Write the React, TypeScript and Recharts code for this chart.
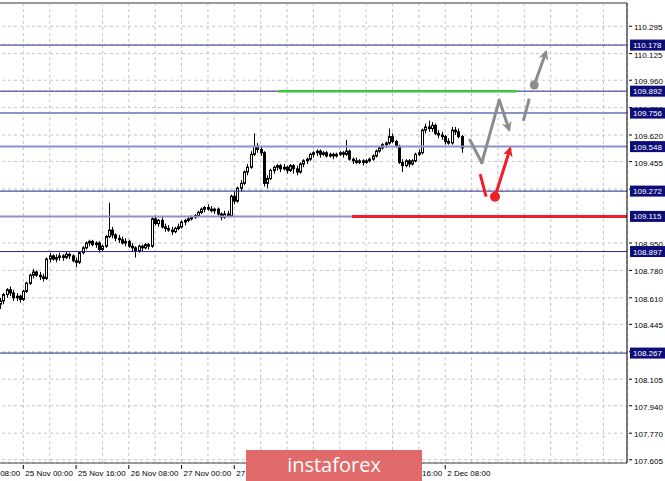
import React from 'react';
import {
  ComposedChart,
  Bar,
  XAxis,
  YAxis,
  CartesianGrid,
  ReferenceLine,
  ReferenceDot,
} from 'recharts';

// H1 bars, index 0 = 22 Nov 08:00
const candleStart = 9;
// [open, high, low, close]
const ohlc: [number, number, number, number][] = [
  [108.57, 108.61, 108.54, 108.59], [108.59, 108.64, 108.57, 108.63], [108.63, 108.67, 108.61, 108.66],
  [108.66, 108.68, 108.62, 108.64], [108.64, 108.66, 108.59, 108.61], [108.61, 108.64, 108.59, 108.62],
  [108.62, 108.63, 108.58, 108.6], [108.6, 108.66, 108.59, 108.65], [108.65, 108.71, 108.64, 108.7],
  [108.7, 108.76, 108.69, 108.75], [108.75, 108.79, 108.73, 108.77], [108.77, 108.78, 108.74, 108.75],
  [108.75, 108.77, 108.72, 108.74], [108.74, 108.76, 108.71, 108.73], [108.73, 108.86, 108.72, 108.85],
  [108.85, 108.89, 108.83, 108.87], [108.87, 108.88, 108.84, 108.85], [108.85, 108.88, 108.83, 108.86],
  [108.86, 108.89, 108.84, 108.87], [108.87, 108.88, 108.84, 108.86], [108.86, 108.9, 108.85, 108.88],
  [108.88, 108.89, 108.85, 108.87], [108.87, 108.88, 108.83, 108.84], [108.84, 108.86, 108.8, 108.83],
  [108.83, 108.9, 108.82, 108.89], [108.89, 108.93, 108.88, 108.92], [108.92, 108.96, 108.91, 108.95],
  [108.95, 108.97, 108.93, 108.96], [108.96, 108.97, 108.93, 108.94], [108.94, 108.96, 108.92, 108.95],
  [108.95, 108.96, 108.89, 108.91], [108.91, 108.94, 108.9, 108.93], [108.93, 109.0, 108.92, 108.99],
  [108.99, 109.2, 108.98, 109.03], [109.03, 109.05, 108.98, 109.0], [109.0, 109.01, 108.96, 108.98],
  [108.98, 109.0, 108.95, 108.97], [108.97, 108.99, 108.94, 108.95], [108.95, 108.98, 108.93, 108.96],
  [108.96, 108.97, 108.92, 108.93], [108.93, 108.95, 108.9, 108.92], [108.92, 108.93, 108.86, 108.9],
  [108.9, 108.94, 108.89, 108.93], [108.93, 108.94, 108.9, 108.92], [108.92, 108.95, 108.91, 108.94],
  [108.94, 108.95, 108.91, 108.93], [108.93, 109.11, 108.92, 109.1], [109.1, 109.12, 109.06, 109.07],
  [109.07, 109.1, 109.05, 109.09], [109.09, 109.11, 109.04, 109.05], [109.05, 109.07, 109.02, 109.04],
  [109.04, 109.06, 109.02, 109.03], [109.03, 109.05, 109.0, 109.02], [109.02, 109.05, 109.01, 109.04],
  [109.04, 109.07, 109.03, 109.05], [109.05, 109.09, 109.04, 109.08], [109.08, 109.1, 109.06, 109.09],
  [109.09, 109.11, 109.08, 109.1], [109.1, 109.12, 109.09, 109.11], [109.11, 109.13, 109.1, 109.12],
  [109.12, 109.15, 109.11, 109.14], [109.14, 109.17, 109.13, 109.16], [109.16, 109.18, 109.14, 109.17],
  [109.17, 109.19, 109.15, 109.16], [109.16, 109.18, 109.14, 109.15], [109.15, 109.17, 109.13, 109.16],
  [109.16, 109.17, 109.12, 109.13], [109.13, 109.14, 109.09, 109.11], [109.11, 109.15, 109.1, 109.13],
  [109.13, 109.15, 109.11, 109.12], [109.12, 109.25, 109.11, 109.24], [109.24, 109.27, 109.19, 109.21],
  [109.21, 109.3, 109.2, 109.29], [109.29, 109.34, 109.27, 109.32], [109.32, 109.4, 109.31, 109.39],
  [109.39, 109.44, 109.37, 109.42], [109.42, 109.52, 109.41, 109.5], [109.5, 109.63, 109.49, 109.55],
  [109.55, 109.57, 109.51, 109.53], [109.53, 109.55, 109.49, 109.51], [109.51, 109.52, 109.3, 109.32],
  [109.32, 109.37, 109.29, 109.35], [109.35, 109.41, 109.34, 109.4], [109.4, 109.43, 109.38, 109.42],
  [109.42, 109.44, 109.4, 109.43], [109.43, 109.44, 109.39, 109.41], [109.41, 109.44, 109.4, 109.42],
  [109.42, 109.43, 109.38, 109.4], [109.4, 109.44, 109.39, 109.43], [109.43, 109.44, 109.38, 109.41],
  [109.41, 109.43, 109.37, 109.39], [109.39, 109.45, 109.38, 109.44], [109.44, 109.47, 109.42, 109.46],
  [109.46, 109.48, 109.44, 109.47], [109.47, 109.51, 109.46, 109.5], [109.5, 109.52, 109.48, 109.51],
  [109.51, 109.53, 109.49, 109.52], [109.52, 109.53, 109.48, 109.5], [109.5, 109.52, 109.49, 109.51],
  [109.51, 109.52, 109.48, 109.49], [109.49, 109.51, 109.48, 109.5], [109.5, 109.51, 109.47, 109.49],
  [109.49, 109.51, 109.48, 109.5], [109.5, 109.52, 109.49, 109.51], [109.51, 109.52, 109.48, 109.5],
  [109.5, 109.59, 109.49, 109.52], [109.52, 109.53, 109.46, 109.47], [109.47, 109.48, 109.44, 109.46],
  [109.46, 109.48, 109.44, 109.45], [109.45, 109.47, 109.44, 109.46], [109.46, 109.47, 109.43, 109.45],
  [109.45, 109.47, 109.44, 109.46], [109.46, 109.48, 109.45, 109.47], [109.47, 109.5, 109.46, 109.49],
  [109.49, 109.53, 109.48, 109.52], [109.52, 109.55, 109.51, 109.54], [109.54, 109.57, 109.53, 109.56],
  [109.56, 109.58, 109.54, 109.57], [109.57, 109.66, 109.56, 109.61], [109.61, 109.63, 109.57, 109.58],
  [109.58, 109.59, 109.54, 109.55], [109.55, 109.56, 109.44, 109.45], [109.45, 109.47, 109.39, 109.43],
  [109.43, 109.47, 109.42, 109.46], [109.46, 109.47, 109.42, 109.44], [109.44, 109.47, 109.43, 109.46],
  [109.46, 109.51, 109.45, 109.5], [109.5, 109.53, 109.49, 109.51], [109.51, 109.66, 109.5, 109.65],
  [109.65, 109.69, 109.63, 109.67], [109.67, 109.71, 109.64, 109.66], [109.66, 109.7, 109.64, 109.68],
  [109.68, 109.69, 109.62, 109.63], [109.63, 109.65, 109.6, 109.62], [109.62, 109.64, 109.59, 109.61],
  [109.61, 109.62, 109.56, 109.58], [109.58, 109.6, 109.56, 109.57], [109.57, 109.67, 109.56, 109.65],
  [109.65, 109.67, 109.62, 109.64], [109.64, 109.66, 109.6, 109.61], [109.61, 109.62, 109.51, 109.54],
];

const priceTicks = [
  110.295, 110.125, 109.96, 109.79, 109.62, 109.455, 109.285, 109.115, 108.95,
  108.78, 108.61, 108.445, 108.275, 108.105, 107.94, 107.77, 107.605,
];
const timeTicks = [0, 8, 16, 24, 32, 40, 48, 56, 64, 72, 80, 88, 96, 104, 112, 120, 128, 136, 144, 152, 160, 168, 176, 184, 192];
const timeLabels: Record<number, string> = {
  0: '22 Nov 08:00',
  16: '25 Nov 00:00',
  32: '25 Nov 16:00',
  48: '26 Nov 08:00',
  64: '27 Nov 00:00',
  80: '27 Nov 16:00',
  96: '28 Nov 08:00',
  112: '29 Nov 00:00',
  128: '29 Nov 16:00',
  144: '2 Dec 08:00',
};

const levels = [110.178, 109.892, 109.756, 109.548, 109.272, 109.115, 108.897, 108.267];
const levelTone = ['dark', 'dark', 'light', 'light', 'dark', 'light', 'dark', 'dark'];

// drawn forecast: [bar index, price]
const greenZone: [number, number][] = [[93.3, 109.892], [165.8, 109.892]];
const redZone: [number, number][] = [[115.7, 109.115], [199.15, 109.115]];
const grayPath: [number, number][] = [[151.5, 109.589], [155.1, 109.448], [160.4, 109.837], [163.4, 109.651]];
const grayDash: [number, number][] = [[167.7, 109.708], [169.5, 109.845]];
const grayArrow: [number, number][] = [[171.0, 109.93], [174.6, 110.136]];
const redDash: [number, number][] = [[154.6, 109.378], [156.4, 109.237]];
const redArrow: [number, number][] = [[159.1, 109.237], [163.7, 109.537]];

const xDomain = [-3.216, 199.15];
const yDomain = [107.585, 110.439];

const FONT = '"Liberation Sans", Arial, sans-serif';
const GRAY = '#8c8c8c';
const RED = '#ee1f26';

const data = ohlc.map(([o, h, l, c], k) => ({ i: candleStart + k, o, h, l, c, range: [l, h] }));

// plain labels first, level tags last so the tags sit on top
const axisTicks = [...priceTicks.filter((t) => !levels.includes(t)), ...levels];

const Candle = (props: any) => {
  const { x, y, width, height, payload } = props;
  const { o, h, l, c } = payload;
  const top = Math.min(y, y + height);
  const span = Math.abs(height);
  const k = span / (h - l);
  const cx = Math.round(x + width / 2) + 0.5;
  const yo = top + (h - o) * k;
  const yc = top + (h - c) * k;
  const bodyTop = Math.min(yo, yc);
  const bodyH = Math.max(1, Math.abs(yc - yo));
  return (
    <g>
      <line x1={cx} x2={cx} y1={top} y2={top + span} stroke="#000" strokeWidth={1} />
      {c >= o ? (
        <rect x={cx - 1} y={bodyTop} width={2} height={bodyH} fill="#fff" stroke="#000" strokeWidth={1} />
      ) : (
        <rect x={cx - 1.5} y={bodyTop - 0.5} width={3} height={bodyH + 1} fill="#000" />
      )}
    </g>
  );
};

const TimeTick = ({ x, y, payload }: any) => {
  const label = timeLabels[payload.value];
  if (!label) return null;
  return (
    <g>
      <line x1={x} x2={x} y1={y} y2={y + 4} stroke="#000" />
      <text x={x + 2} y={y + 11} fontSize={8} fill="#000" fontFamily={FONT}>
        {label}
      </text>
    </g>
  );
};

const PriceTick = ({ x, y, payload }: any) => {
  const v: number = payload.value;
  if (levels.includes(v)) {
    return (
      <g>
        <rect x={x + 1} y={y - 5.5} width={36} height={11} fill="#0d0d78" />
        <text x={x + 4} y={y + 3} fontSize={8} fill="#fff" fontFamily={FONT}>
          {v.toFixed(3)}
        </text>
      </g>
    );
  }
  return (
    <g>
      <line x1={x} x2={x + 3} y1={y} y2={y} stroke="#000" />
      <text x={x + 5} y={y + 4} fontSize={8} fill="#000" fontFamily={FONT}>
        {v.toFixed(3)}
      </text>
    </g>
  );
};

const seg = (p: [number, number][], a: number) => [
  { x: p[a][0], y: p[a][1] },
  { x: p[a + 1][0], y: p[a + 1][1] },
];

export default function App() {
  return (
    <div style={{ position: 'absolute', left: 0, top: 0, width: 665, height: 481, overflow: 'hidden', background: '#fff' }}>
      <div style={{ position: 'absolute', left: -40, top: 0 }}>
        <ComposedChart width={705} height={481} data={data} margin={{ top: 3, right: 0, bottom: 0, left: 0 }}>
          <defs>
            <marker id="ahGray" viewBox="0 0 10 10" refX="8" refY="5" markerWidth="12" markerHeight="10" markerUnits="userSpaceOnUse" orient="auto">
              <path d="M0,0 L10,5 L0,10 L3,5 z" fill={GRAY} />
            </marker>
            <marker id="ahRed" viewBox="0 0 10 10" refX="8" refY="5" markerWidth="12" markerHeight="10" markerUnits="userSpaceOnUse" orient="auto">
              <path d="M0,0 L10,5 L0,10 L3,5 z" fill={RED} />
            </marker>
          </defs>
          <CartesianGrid strokeDasharray="3 3" stroke="#c4c4c4" />
          <XAxis
            type="number"
            dataKey="i"
            domain={xDomain}
            allowDataOverflow
            ticks={timeTicks}
            interval={0}
            tick={<TimeTick />}
            tickLine={false}
            tickSize={0}
            height={18}
            axisLine={{ stroke: '#404040' }}
          />
          <YAxis
            orientation="right"
            type="number"
            domain={yDomain}
            allowDataOverflow
            ticks={axisTicks}
            interval={0}
            tick={<PriceTick />}
            tickLine={false}
            tickSize={0}
            width={38}
            axisLine={{ stroke: '#000' }}
          />
          <ReferenceLine y={yDomain[1]} stroke="#9a9a9a" strokeWidth={2} />
          {levels.map((v, k) => (
            <ReferenceLine
              key={v}
              y={v}
              stroke={levelTone[k] === 'dark' ? '#2a2a8e' : '#9090cc'}
              strokeWidth={levelTone[k] === 'dark' ? 1 : 2}
            />
          ))}
          <Bar dataKey="range" barSize={3} shape={<Candle />} isAnimationActive={false} />
          <ReferenceLine segment={seg(greenZone, 0)} stroke="#3cc43c" strokeWidth={2.5} />
          <ReferenceLine segment={seg(redZone, 0)} stroke={RED} strokeWidth={3} />
          <ReferenceLine segment={seg(grayPath, 0)} stroke={GRAY} strokeWidth={3} strokeLinecap="round" />
          <ReferenceLine segment={seg(grayPath, 1)} stroke={GRAY} strokeWidth={3} strokeLinecap="round" />
          <ReferenceLine segment={seg(grayPath, 2)} stroke={GRAY} strokeWidth={3} markerEnd="url(#ahGray)" />
          <ReferenceLine segment={seg(grayDash, 0)} stroke={GRAY} strokeWidth={3} />
          <ReferenceLine segment={seg(grayArrow, 0)} stroke={GRAY} strokeWidth={3} markerEnd="url(#ahGray)" />
          <ReferenceDot x={grayArrow[0][0]} y={grayArrow[0][1]} r={4.5} fill={GRAY} stroke="none" />
          <ReferenceLine segment={seg(redDash, 0)} stroke={RED} strokeWidth={3} />
          <ReferenceLine segment={seg(redArrow, 0)} stroke={RED} strokeWidth={3} markerEnd="url(#ahRed)" />
          <ReferenceDot x={redArrow[0][0]} y={redArrow[0][1]} r={5} fill={RED} stroke="none" />
        </ComposedChart>
      </div>
      <div
        style={{
          position: 'absolute',
          left: 246,
          top: 450,
          width: 176,
          height: 31,
          background: '#e16a6b',
          color: '#fff',
          fontFamily: '"Open Sans", sans-serif',
          fontSize: 20,
          lineHeight: '30px',
          textAlign: 'center',
        }}
      >
        instaforex
      </div>
    </div>
  );
}
